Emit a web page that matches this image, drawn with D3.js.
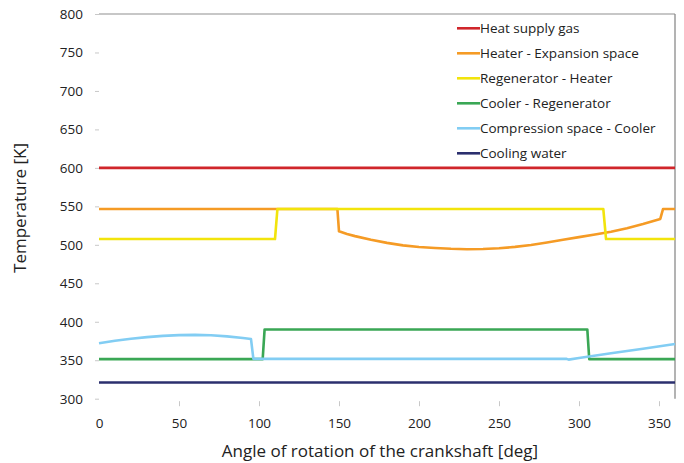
<!DOCTYPE html>
<html>
<head>
<meta charset="utf-8">
<script src="https://cdn.jsdelivr.net/npm/d3@7"></script>
<style>
  body { margin: 0; background: #fff; }
  text { font-family: "Open Sans", sans-serif; fill: #222; }
</style>
</head>
<body>
<svg width="684" height="463"></svg>
<script>
// series names and colours (legend order)
var seriesNames = ["Heat supply gas", "Heater - Expansion space", "Regenerator - Heater",
                   "Cooler - Regenerator", "Compression space - Cooler", "Cooling water"];
var seriesColors = ["#d0262b", "#f59b25", "#f2e40c", "#3aa755", "#82cdf3", "#2b2f6e"];

// [angle, temperature]
var heatSupply = [[0, 600], [360, 600]];
var heaterExp = [[0, 546.5], [149, 546.5], [150, 517.5], [155, 514], [160, 511.3], [170, 506.5],
                 [180, 502.5], [190, 499.3], [200, 497.2], [210, 495.8], [220, 494.8], [230, 494.3],
                 [240, 494.5], [250, 495.5], [260, 497.3], [270, 499.8], [280, 503], [290, 506.5],
                 [300, 510], [310, 513.3], [320, 517], [330, 521.5], [340, 527], [350.8, 533.6],
                 [352.5, 546.5], [360, 546.5]];
var regenHeater = [[0, 507.5], [110, 507.5], [111.5, 546.5], [315.2, 546.5], [316.9, 507.5], [360, 507.5]];
var coolerRegen = [[0, 351.5], [102.3, 351.5], [103.5, 390], [305.2, 390], [306.4, 351.5], [360, 351.5]];
var compCooler = [[0, 372], [10, 375.3], [20, 377.9], [30, 380], [40, 381.6], [50, 382.6], [60, 383],
                  [70, 382.4], [80, 381], [90, 378.8], [95, 377.5], [96.5, 351.8], [292, 351.8],
                  [293.5, 350.8], [300, 353], [320, 359], [340, 365], [360, 371]];
var coolingWater = [[0, 321], [360, 321]];
var allSeries = [heatSupply, heaterExp, regenHeater, coolerRegen, compCooler, coolingWater];

var xTicks = [0, 50, 100, 150, 200, 250, 300, 350];
var yTicks = [300, 350, 400, 450, 500, 550, 600, 650, 700, 750, 800];

var svg = d3.select("svg");
var mLeft = 99, mRight = 675, mTop = 14, mBottom = 398.7;

var x = d3.scaleLinear().domain([0, 360]).range([mLeft, mRight]);
var y = d3.scaleLinear().domain([300, 800]).range([mBottom, mTop]);

// top border and right border
svg.append("line").attr("x1", mLeft).attr("x2", mRight).attr("y1", y(800)).attr("y2", y(800))
   .attr("stroke", "#b5b5b5").attr("stroke-width", 1.3);
svg.append("line").attr("x1", mRight).attr("x2", mRight).attr("y1", y(800)).attr("y2", mBottom)
   .attr("stroke", "#8a8a8a").attr("stroke-width", 1.3);

// y axis
var yAxis = svg.append("g").attr("transform", "translate(" + mLeft + ",0)")
   .call(d3.axisLeft(y).tickValues(yTicks).tickSize(4).tickPadding(12));
yAxis.select(".domain").remove();
yAxis.selectAll("line").attr("stroke", "#c8c8c8");
yAxis.selectAll("text").style("font-size", "13.5px").style("font-family", "Open Sans, sans-serif").attr("fill", "#222");

// x axis
var xAxis = svg.append("g").attr("transform", "translate(0," + (mBottom + 2.5) + ")")
   .call(d3.axisBottom(x).tickValues(xTicks).tickSize(5).tickPadding(12));
xAxis.select(".domain").remove();
xAxis.selectAll("line").attr("stroke", "#c8c8c8").attr("display", function(d) { return d == 0 ? "none" : null; });
xAxis.selectAll("text").style("font-size", "13.5px").style("font-family", "Open Sans, sans-serif").attr("fill", "#222");

// lines
var line = d3.line().x(function(d) { return x(d[0]); }).y(function(d) { return y(d[1]); });
allSeries.forEach(function(s, i) {
  svg.append("path").datum(s).attr("d", line)
     .attr("fill", "none").attr("stroke", seriesColors[i]).attr("stroke-width", 2.6)
     .attr("stroke-linejoin", "round");
});

// legend
var legend = svg.append("g");
seriesNames.forEach(function(n, i) {
  var ly = 28.3 + i * 25;
  legend.append("line").attr("x1", 457).attr("x2", 480).attr("y1", ly).attr("y2", ly)
        .attr("stroke", seriesColors[i]).attr("stroke-width", 2.6);
  legend.append("text").attr("x", 480).attr("y", ly + 4.8).text(n).style("font-size", "13.5px");
});

// axis titles
svg.append("text").attr("x", 380).attr("y", 457).attr("text-anchor", "middle")
   .style("font-size", "17px").text("Angle of rotation of the crankshaft [deg]");
svg.append("text").attr("transform", "translate(26,208) rotate(-90)").attr("text-anchor", "middle")
   .style("font-size", "17px").text("Temperature [K]");
</script>
</body>
</html>
